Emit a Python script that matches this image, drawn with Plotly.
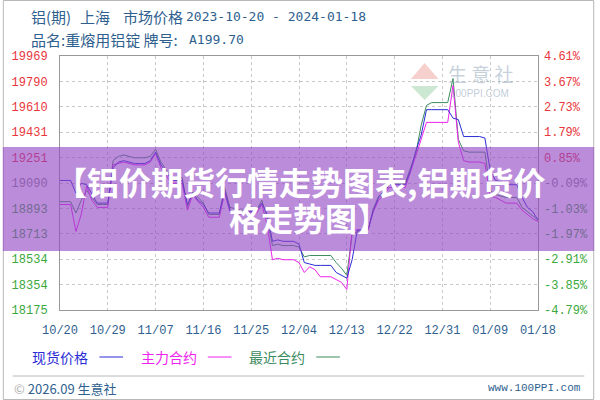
import pandas as pd
import plotly.graph_objects as go

# ---------------- data ----------------
dates = pd.date_range("2023-10-20", "2024-01-18", freq="D")

spot_price = [  # 现货价格
    19090, 19090, 19090, 19000, 19070, 19060, 18990,
    18930, 18930, 18930, 19180, 19220, 19230, 19220,
    19210, 19210, 19210, 19230, 19290, 19200, 19150,
    19090, 19090, 19090, 18920, 19000, 18950, 18920,
    18860, 18860, 18860, 19020, 18880, 18870, 18870,
    18870, 18870, 18870, 18930, 18850, 18660, 18670,
    18660, 18660, 18660, 18640, 18510, 18500, 18490,
    18490, 18490, 18490, 18440, 18420, 18400, 18530,
    18740, 18740, 18740, 18880, 18970, 19000, 19060,
    19060, 19060, 19060, 19160, 19300, 19410, 19590,
    19590, 19590, 19590, 19590, 19530, 19520, 19400,
    19400, 19400, 19400, 19390, 19160, 19090, 19080,
    19060, 19060, 19060, 18970, 18900, 18870, 18810,
]
main_contract = [  # 主力合约
    18920, 18920, 18920, 18730, 18850, 19050, 18950,
    18900, 18900, 18900, 19200, 19210, 19220, 19210,
    19200, 19200, 19200, 19220, 19280, 19180, 19120,
    19070, 19070, 19070, 18880, 18990, 18940, 18900,
    18830, 18830, 18830, 19000, 18870, 18860, 18850,
    18860, 18860, 18860, 18920, 18780, 18530, 18540,
    18530, 18530, 18530, 18510, 18440, 18480, 18460,
    18410, 18410, 18410, 18390, 18370, 18320, 18740,
    18740, 18740, 18740, 18870, 18950, 18990, 19040,
    19040, 19040, 19040, 19150, 19260, 19380, 19500,
    19500, 19500, 19500, 19500, 19760, 19360, 19230,
    19220, 19220, 19220, 19210, 18980, 18970, 18950,
    18930, 18930, 18930, 18880, 18850, 18820, 18800,
]
nearest_contract = [  # 最近合约
    18940, 18940, 18940, 18860, 18950, 19020, 18970,
    18920, 18920, 18920, 19230, 19260, 19270, 19260,
    19250, 19250, 19250, 19260, 19310, 19220, 19160,
    19110, 19110, 19110, 18900, 19010, 18970, 18930,
    18850, 18850, 18850, 19040, 18900, 18890, 18880,
    18880, 18880, 18880, 18950, 18830, 18630, 18640,
    18630, 18630, 18630, 18620, 18550, 18560, 18560,
    18560, 18560, 18560, 18510, 18470, 18420, 18710,
    18730, 18740, 18740, 18890, 18980, 19010, 19070,
    19070, 19070, 19070, 19180, 19280, 19480, 19620,
    19640, 19640, 19640, 19640, 19810, 19380, 19300,
    19290, 19290, 19290, 19290, 19020, 18990, 18980,
    18970, 18970, 18970, 18900, 18870, 18840, 18810,
]

y_min, y_max = 18175, 19969
left_tick_labels = ["18175", "18354", "18534", "18713", "18893", "19090",
                    "19251", "19431", "19610", "19790", "19969"]
right_tick_labels = ["-4.79%", "-3.85%", "-2.91%", "-1.97%", "-1.03%", "-0.09%",
                     "0.85%", "1.79%", "2.73%", "3.67%", "4.61%"]
x_tick_dates = ["2023-10-20", "2023-10-29", "2023-11-07", "2023-11-16", "2023-11-25",
                "2023-12-04", "2023-12-13", "2023-12-22", "2023-12-31", "2024-01-09",
                "2024-01-18"]
x_tick_labels = ["10/20", "10/29", "11/07", "11/16", "11/25", "12/04",
                 "12/13", "12/22", "12/31", "01/09", "01/18"]

# ---------------- styling helpers ----------------
W, H = 600, 400
PL, PR, PT, PB = 58, 543, 56, 310
def px(x):
    return (x - PL) / (PR - PL)
def py(y):
    return (PB - y) / (PB - PT)

RED, GREEN, GRAY = "#e8363a", "#3aa83a", "#888888"
def colored(labels):
    out = []
    for i, t in enumerate(labels):
        c = GREEN if i < 5 else (GRAY if i == 5 else RED)
        out.append(f'<span style="color:{c}">{t}</span>')
    return out

n = len(left_tick_labels)
tick_vals = [y_min + (y_max - y_min) * i / (n - 1) for i in range(n)]

C_SPOT, C_MAIN, C_NEAR = "#2b2bd6", "#ee22ee", "#3d8c5f"
TXT = "#2f5f8f"
CJK = "Noto Sans CJK SC"
MONO = "Liberation Mono"

fig = go.Figure()
fig.add_trace(go.Scatter(x=dates, y=nearest_contract, mode="lines",
                         line=dict(color=C_NEAR, width=1), name="最近合约"))
fig.add_trace(go.Scatter(x=dates, y=main_contract, mode="lines",
                         line=dict(color=C_MAIN, width=1), name="主力合约"))
fig.add_trace(go.Scatter(x=dates, y=spot_price, mode="lines",
                         line=dict(color=C_SPOT, width=1), name="现货价格"))
fig.add_trace(go.Scatter(x=dates, y=spot_price, mode="lines", yaxis="y2",
                         line=dict(width=0), opacity=0, hoverinfo="skip",
                         showlegend=False))

fig.update_layout(
    width=W, height=H,
    margin=dict(l=PL, r=W - PR, t=PT, b=H - PB, pad=0),
    paper_bgcolor="white", plot_bgcolor="white",
    showlegend=False,
    xaxis=dict(type="date", range=[dates[0], dates[-1]],
               tickvals=x_tick_dates, ticktext=x_tick_labels,
               tickfont=dict(family=MONO, size=12, color=TXT),
               showgrid=True, gridcolor="#c8c8c8", griddash="dot", gridwidth=1,
               showline=True, linecolor="#999999", linewidth=1, mirror=True,
               ticks="", ticklabelstandoff=9, zeroline=False),
    yaxis=dict(range=[y_min, y_max], tickvals=tick_vals,
               ticktext=colored(left_tick_labels),
               tickfont=dict(family=MONO, size=12),
               showgrid=True, gridcolor="#c8c8c8", griddash="dot", gridwidth=1,
               showline=True, linecolor="#999999", linewidth=1, mirror=True,
               ticks="", ticklabelstandoff=9, zeroline=False),
    yaxis2=dict(range=[y_min, y_max], tickvals=tick_vals, overlaying="y",
                side="right", ticktext=colored(right_tick_labels),
                tickfont=dict(family=MONO, size=12),
                showgrid=False, showline=False, ticks="",
                ticklabelstandoff=5, zeroline=False),
)

shapes = []
annotations = []

def note(text, x, y, size, color, family=CJK, anchor="left"):
    annotations.append(dict(text=text, xref="paper", yref="paper",
                            x=px(x), y=py(y), xanchor=anchor, yanchor="middle",
                            showarrow=False,
                            font=dict(family=family, size=size, color=color)))

# outer frame
shapes.append(dict(type="rect", xref="paper", yref="paper",
                   x0=px(0.5), x1=px(599.5), y0=py(399.5), y1=py(0.5),
                   line=dict(color="#b8b8b8", width=1), fillcolor="rgba(0,0,0,0)",
                   layer="above"))

# header
note("铝(期)", 27, 16, 15, TXT)
note("上海", 76, 16, 15, TXT)
note("市场价格", 120, 16, 15, TXT)
note("2023-10-20 - 2024-01-18", 184, 16, 13, TXT, family="DejaVu Sans Mono")
note("品名:重熔用铝锭 牌号:", 27, 40, 15, TXT)
note("A199.70", 187, 40, 13, TXT, family="DejaVu Sans Mono")

# watermark
shapes.append(dict(type="path", xref="paper", yref="paper",
                   path=f"M {px(414)},{py(79)} L {px(428)},{py(63)} L {px(442)},{py(79)} Z",
                   fillcolor="rgba(230,120,110,0.35)", line=dict(width=0), layer="below"))
shapes.append(dict(type="path", xref="paper", yref="paper",
                   path=f"M {px(414)},{py(86)} L {px(428)},{py(100)} L {px(442)},{py(86)} Z",
                   fillcolor="rgba(110,190,130,0.35)", line=dict(width=0), layer="below"))
note("生 意 社", 450, 73, 19, "rgba(150,170,190,0.55)")
note("100PPI.COM", 452, 94, 10, "rgba(150,170,190,0.6)", family="Liberation Sans")

# legend row
legend_items = [("现货价格", C_SPOT, 28), ("主力合约", C_MAIN, 138), ("最近合约", C_NEAR, 248)]
for label, col, x0 in legend_items:
    note(label, x0, 357, 14, col)
    shapes.append(dict(type="line", xref="paper", yref="paper",
                       x0=px(x0 + 70), x1=px(x0 + 94), y0=py(357), y1=py(357),
                       line=dict(color=col, width=1)))

# footer
shapes.append(dict(type="line", xref="paper", yref="paper",
                   x0=px(10), x1=px(590), y0=py(376), y1=py(376),
                   line=dict(color="#b8b8b8", width=1)))
note("<span style='color:#aaaaaa'>©</span> 2026.09 生意社", 9, 388, 13, TXT)
note("www.100PPI.com", 589, 388, 11, TXT, family=MONO, anchor="right")

# purple overlay band with title
shapes.append(dict(type="rect", xref="paper", yref="paper",
                   x0=px(0), x1=px(600), y0=py(251), y1=py(147),
                   fillcolor="rgba(145,70,195,0.62)", line=dict(width=0), layer="above"))
note("<b>【铝价期货行情走势图表,铝期货价</b>", 302, 181, 32, "white", anchor="center")
note("<b>格走势图】</b>", 311, 217, 32, "white", anchor="center")

fig.update_layout(shapes=shapes, annotations=annotations)
fig.write_html("out.html", config={"displayModeBar": False},
               post_script="document.body.style.margin='0';")
